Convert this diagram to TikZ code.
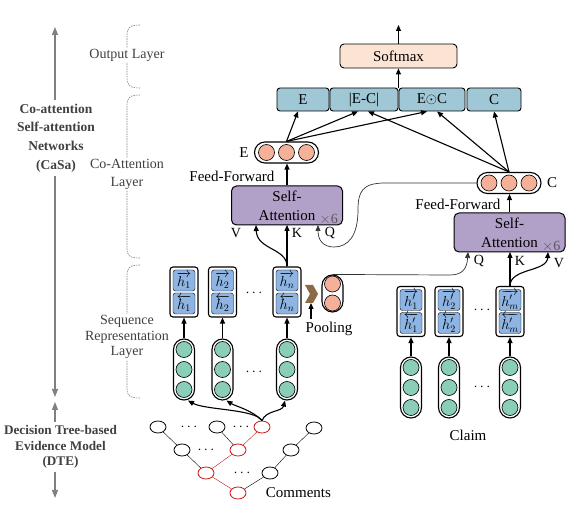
\documentclass[tikz,border=0pt]{standalone}
\usepackage{fontspec}
\setmainfont{Liberation Serif}
\usetikzlibrary{arrows.meta,shapes.geometric,positioning}
\definecolor{peach}{RGB}{244,177,152}
\definecolor{softpeach}{RGB}{252,228,212}
\definecolor{outblue}{RGB}{160,199,214}
\definecolor{saviolet}{RGB}{177,160,199}
\definecolor{hblue}{RGB}{141,180,226}
\definecolor{mint}{RGB}{138,205,184}
\definecolor{poolbrown}{RGB}{140,106,70}
\definecolor{labelgray}{RGB}{64,64,64}
\definecolor{rednode}{RGB}{200,20,20}
\begin{document}
\begin{tikzpicture}[x=1pt,y=-1pt,font=\fontsize{15}{17}\selectfont,
  arr/.style={-{Triangle[length=6pt,width=5pt]},line width=1.1pt},
  thinarr/.style={-{Triangle[length=6pt,width=5pt]},line width=0.7pt,black!80},
  sideaxis/.style={-{Triangle[length=8pt,width=6pt]},line width=1.3pt,gray},
  dashbrace/.style={gray,dashed,dash pattern=on 1.5pt off 1pt,line width=0.6pt},
  layertext/.style={labelgray,fill=white,align=center,font=\fontsize{14}{18}\selectfont,inner sep=1pt},
  modeltext/.style={labelgray,align=center,font=\bfseries\fontsize{13.5}{18.7}\selectfont},
  obox/.style={draw,rounded corners=3pt,fill=outblue,line width=0.9pt,minimum height=23pt,inner sep=0pt},
  sabox/.style={draw,rounded corners=5pt,fill=saviolet,line width=1pt,minimum width=111pt,minimum height=39pt,align=center,font=\fontsize{15}{19}\selectfont},
  vech/.style={draw,rounded corners=10.5pt,line width=1.1pt,fill=white,minimum width=64pt,minimum height=21pt},
  vecv/.style={draw,rounded corners=10.5pt,line width=1.1pt,fill=white,minimum width=21pt},
  pdot/.style={circle,draw,fill=peach,minimum size=16pt,inner sep=0pt,line width=0.6pt},
  gdot/.style={circle,draw,fill=mint,minimum size=16pt,inner sep=0pt,line width=0.6pt},
  hbox/.style={draw,rounded corners=3pt,line width=1.1pt,minimum width=28pt,minimum height=50pt,fill=white},
  hin/.style={draw,rounded corners=2.5pt,fill=hblue,minimum width=22pt,minimum height=21pt,inner sep=0pt,font=\fontsize{14.5}{14.5}\selectfont},
  tnode/.style={ellipse,draw,minimum width=16pt,minimum height=12pt,inner sep=0pt,line width=0.8pt},
  rnode/.style={tnode,draw=rednode},
  qkv/.style={font=\fontsize{14}{14}\selectfont},
  reps/.style={gray!70!black,inner sep=1pt,font=\fontsize{14}{14}\selectfont}]
\useasboundingbox (0,0) rectangle (582,513);
% left side
\node[modeltext] (casa) at (56,138) {Co-attention\\Self-attention\\Networks\\(CaSa)};
\node[modeltext,font=\bfseries\fontsize{13.2}{15.5}\selectfont] (dte) at (60.5,447) {Decision Tree-based\\Evidence Model\\(DTE)};
\coordinate (casatop) at (55,27);
\coordinate (casabot) at (55,397);
\coordinate (dtetop) at (55,402);
\coordinate (dtebot) at (55,498);
\draw[sideaxis] (casa.north -| casatop) -- (casatop);
\draw[sideaxis] (casa.south -| casabot) -- (casabot);
\draw[sideaxis] (dte.north -| dtetop) -- (dtetop);
\draw[sideaxis] (dte.south -| dtebot) -- (dtebot);
\draw[dashbrace] (140,25) .. controls (129,25) and (127,28) .. (127,36) -- (127,77) .. controls (127,85) and (129,88) .. (140,88);
\draw[dashbrace] (140,95) .. controls (129,95) and (127,98) .. (127,106) -- (127,249) .. controls (127,255) and (129,258) .. (140,258);
\draw[dashbrace] (140,265) .. controls (129,265) and (127,268) .. (127,276) -- (127,389) .. controls (127,395) and (129,398) .. (140,398);
\node[layertext] (outlab) at (127,55) {Output Layer};
\node[layertext] (colab) at (127,174) {Co-Attention\\Layer};
\node[layertext,font=\fontsize{14}{15.5}\selectfont] (seqlab) at (127,337) {Sequence\\Representation\\Layer};
% output layer
\node[draw,rounded corners=4pt,fill=softpeach,line width=0.9pt,minimum width=117pt,minimum height=24pt] (softmax) at (398.5,56) {Softmax};
\coordinate (result) at (398.5,25);
\draw[arr] (softmax) -- (result);
\node[obox,minimum width=52pt] (oE) at (303,99.5) {E};
\node[obox,minimum width=68pt] (oEC) at (364,99.5) {|E-C|};
\node[obox,minimum width=66pt] (oEdC) at (432,99.5) {E$\odot$C};
\node[obox,minimum width=54pt] (oC) at (494,99.5) {C};
\draw[arr] (oEC.north east) -- (softmax.south -| oEC.north east);
% co-attention layer
\node[vech] (vecE) at (286.5,152.5) {};
\foreach \dx in {-20,0,20} \node[pdot] at (286.5+\dx,152.5) {};
\node[left=2pt of vecE] (labE) {E};
\node[vech] (vecC) at (509,183) {};
\foreach \dx in {-20,0,20} \node[pdot] at (509+\dx,183) {};
\node[right=2pt of vecC] (labC) {C};
\draw[arr] (vecE.north) -- ([xshift=-5pt]oE.south);
\draw[arr] (vecE.north) -- ([xshift=-6pt]oEC.south);
\draw[arr] (vecE.north) -- ([xshift=-5pt]oEdC.south);
\draw[arr] (vecC.north) -- ([xshift=4pt]oEC.south);
\draw[arr] (vecC.north) -- ([xshift=5pt]oEdC.south);
\draw[arr] (vecC.north) -- (oC.south);
\node[sabox] (sa1) at (287,205.5) {Self-\\Attention};
\node[reps,anchor=south east] at ([xshift=-4pt]sa1.south east) {$\times$6};
\draw[arr] (sa1.north) -- (sa1.north |- vecE.south);
\node[anchor=east] (ffE) at (278,176) {Feed-Forward};
\node[sabox] (sa2) at (509.5,232.5) {Self-\\Attention};
\node[reps,anchor=south east] at ([xshift=-4pt]sa2.south east) {$\times$6};
\draw[arr] (sa2.north) -- (sa2.north |- vecC.south);
\node[anchor=east] (ffC) at (504,204) {Feed-Forward};
\coordinate (sa1V) at (256,225);
\coordinate (sa1K) at (287,225);
\coordinate (sa1Q) at (318,225);
\coordinate (sa2Q) at (468,252);
\coordinate (sa2K) at (510,252);
\coordinate (sa2V) at (548,252);
\node[qkv] at (236,233) {V};
\node[qkv] at (297,233) {K};
\node[qkv] at (330,233) {Q};
\node[qkv] at (479,261) {Q};
\node[qkv] at (520,261) {K};
\node[qkv] at (559,263) {V};
% sequence representation layer
\foreach \x/\n/\s in {184/h1/1,222.5/h2/2,287/hn/n}{
  \node[hbox] (\n) at (\x,292) {};
  \node[hin] at (\x,280.5) {$\overrightarrow{h_\s}$};
  \node[hin] at (\x,303.5) {$\overleftarrow{h_\s}$};
  \node[vecv,minimum height=61pt] (g\n) at (\x,369.5) {};
  \foreach \dy in {-20,0,20} \node[gdot] at (\x,369.5+\dy) {};
  \draw[arr] (g\n) -- (\n);
}
\node at (254,293) {$\cdots$};
\node at (254,372) {$\cdots$};
\foreach \x/\n/\s in {411/c1/1,449/c2/2,510/cm/m}{
  \node[hbox] (\n) at (\x,311.5) {};
  \node[hin] at (\x,300) {$\overrightarrow{h'_\s}$};
  \node[hin] at (\x,323) {$\overleftarrow{h'_\s}$};
  \node[vecv,minimum height=61pt] (g\n) at (\x,387.5) {};
  \foreach \dy in {-20,0,20} \node[gdot] at (\x,387.5+\dy) {};
  \draw[arr] (g\n) -- (\n);
}
\node at (482,310) {$\cdots$};
\node at (482,387) {$\cdots$};
\node (claim) at (468,435) {Claim};
\draw[arr] (hn.north) -- (sa1K);
\draw[arr] (hn.north) .. controls (287,248) and (257,250) .. (sa1V);
\draw[arr] (cm.north) -- (sa2K);
\draw[arr] (cm.north) .. controls (510,268) and (547,272) .. (sa2V);
\draw[thinarr] (vecC.west) -- (385,183) .. controls (362,183) and (358,192) .. (358,210) .. controls (358,236) and (348,247) .. (334,247) .. controls (323,247) and (318,240) .. (sa1Q);
% pooling
\fill[poolbrown] (305,285) -- (313,285) -- (318,294) -- (313,303) -- (305,303) -- (310,294) -- cycle;
\coordinate (chev) at (311,303);
\node (pooltxt) at (329,329) {Pooling};
\draw[arr] ([xshift=-18pt]pooltxt.north) -- (chev);
\node[vecv,minimum height=37pt] (pvec) at (332.5,293.5) {};
\node[pdot] at (332.5,284) {};
\node[pdot] at (332.5,303) {};
\draw[thinarr] (pvec.north) -- (450,275) .. controls (463,275) and (467,268) .. (sa2Q);
% decision tree
\node[tnode] (ta) at (158,427) {};
\node[tnode] (tb) at (217,427) {};
\node[rnode] (tc) at (262,427) {};
\node[tnode] (td) at (314,428) {};
\node[tnode] (te) at (182,450) {};
\node[rnode] (tf) at (238,450) {};
\node[tnode] (tg) at (291,450) {};
\node[rnode] (th) at (206,473) {};
\node[tnode] (ti) at (270,473) {};
\node[rnode] (tj) at (238,493) {};
\node at (189,427) {$\cdots$};
\node at (241,427) {$\cdots$};
\node at (206,450) {$\cdots$};
\node at (242,473) {$\cdots$};
\draw[thin] (ta) -- (te) (tb) -- (tf) (te) -- (th) (ti) -- (tj) (tg) -- (ti) (td) -- (tg);
\draw[thin,rednode] (tc) -- (tf) (tf) -- (th) (th) -- (tj);
\node[right=16pt of tj] (comments) {Comments};
\draw[arr] (tc.north) .. controls (255,409) and (205,410) .. ([xshift=4pt]gh1.south);
\draw[arr] (tc.north) .. controls (252,410) and (235,406) .. ([xshift=4pt]gh2.south);
\draw[arr] (tc.north) .. controls (266,410) and (282,412) .. ([xshift=-2pt]ghn.south);
\end{tikzpicture}
\end{document}
